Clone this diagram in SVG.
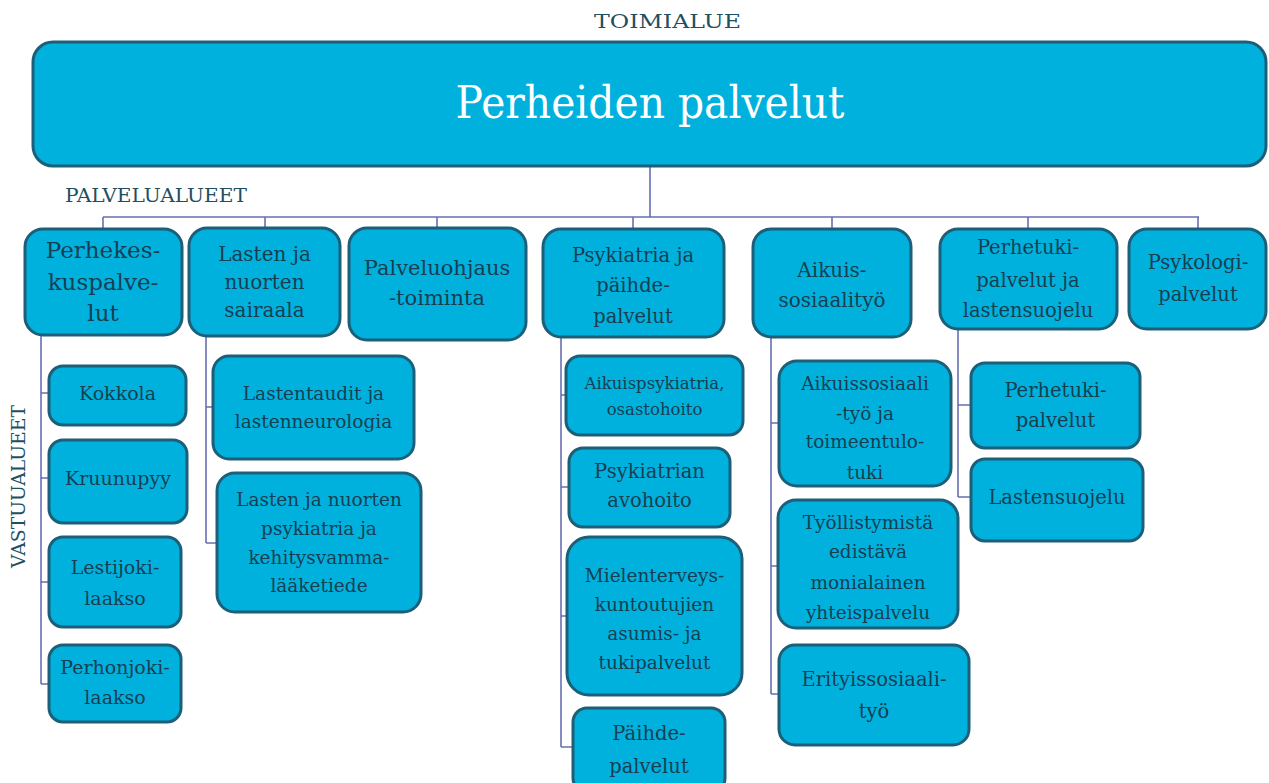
<svg xmlns="http://www.w3.org/2000/svg" width="1269" height="783" viewBox="0 0 1269 783">
<style>
.box{fill:#00B1DE;stroke:#1C5F78;stroke-width:3}
.t{font-family:"DejaVu Serif","Liberation Serif",serif;fill:#163F52;text-anchor:middle}
.lbl{font-family:"DejaVu Serif","Liberation Serif",serif;fill:#1E4F62;font-size:19px}
.conn{stroke:#6670B2;stroke-width:1.6;fill:none}
</style>
<rect width="1269" height="783" fill="#ffffff"/>
<text class="lbl" x="594" y="28" textLength="147" lengthAdjust="spacingAndGlyphs">TOIMIALUE</text>
<text class="lbl" x="65" y="202" textLength="182" lengthAdjust="spacingAndGlyphs">PALVELUALUEET</text>
<text class="lbl" transform="translate(25,568) rotate(-90)" x="0" y="0" textLength="163" lengthAdjust="spacingAndGlyphs">VASTUUALUEET</text>

<g id="connectors" class="conn">
<path d="M650 166V217M103 217H1199M103 217V229M265 217V229M437 217V229M633 217V229M832 217V229M1028 217V229M1198 217V229"/>
<path d="M41 335V684M41 393H49M41 478H49M41 582H49M41 684H49"/>
<path d="M206 336V543M206 407H213M206 543H217"/>
<path d="M561 337V747M561 395H566M561 487H569M561 616H567M561 747H573"/>
<path d="M771 337V694M771 423H779M771 566H778M771 694H779"/>
<path d="M958 329V497M958 405H971M958 497H971"/>
</g>

<g id="root">
<rect class="box" x="33" y="42" width="1233" height="124" rx="20"/>
<text class="t" x="650" y="118" font-size="45" textLength="389" lengthAdjust="spacingAndGlyphs" style="fill:#ffffff">Perheiden palvelut</text>
</g>

<g id="perhekeskus">
<rect class="box" x="25" y="229" width="157" height="106" rx="18"/>
<text class="t" x="103" font-size="23"><tspan x="103" y="258">Perhekes-</tspan><tspan x="103" y="290">kuspalve-</tspan><tspan x="103" y="321">lut</tspan></text>
</g>
<g id="lastensairaala">
<rect class="box" x="189" y="228" width="151" height="108" rx="18"/>
<text class="t" font-size="20"><tspan x="264.5" y="261">Lasten ja</tspan><tspan x="264.5" y="289">nuorten</tspan><tspan x="264.5" y="317">sairaala</tspan></text>
</g>
<g id="palveluohjaus">
<rect class="box" x="349" y="228" width="177" height="112" rx="18"/>
<text class="t" font-size="21"><tspan x="437" y="275">Palveluohjaus</tspan><tspan x="437" y="305">-toiminta</tspan></text>
</g>
<g id="psykiatria">
<rect class="box" x="543" y="229" width="181" height="108" rx="18"/>
<text class="t" font-size="19.5"><tspan x="633" y="262">Psykiatria ja</tspan><tspan x="633" y="292">päihde-</tspan><tspan x="633" y="323">palvelut</tspan></text>
</g>
<g id="aikuissosiaalityo">
<rect class="box" x="753" y="229" width="158" height="108" rx="18"/>
<text class="t" font-size="20"><tspan x="832" y="277">Aikuis-</tspan><tspan x="832" y="307">sosiaalityö</tspan></text>
</g>
<g id="perhetuki">
<rect class="box" x="940" y="229" width="177" height="100" rx="18"/>
<text class="t" font-size="19.5"><tspan x="1028" y="254">Perhetuki-</tspan><tspan x="1028" y="287">palvelut ja</tspan><tspan x="1028" y="317">lastensuojelu</tspan></text>
</g>
<g id="psykologi">
<rect class="box" x="1129" y="229" width="137" height="100" rx="18"/>
<text class="t" font-size="19.5"><tspan x="1198" y="269">Psykologi-</tspan><tspan x="1198" y="301">palvelut</tspan></text>
</g>

<g id="kokkola">
<rect class="box" x="49" y="366" width="137" height="59" rx="14"/>
<text class="t" font-size="19" x="117.5" y="400">Kokkola</text>
</g>
<g id="kruunupyy">
<rect class="box" x="49" y="440" width="138" height="83" rx="14"/>
<text class="t" font-size="19" x="118" y="485">Kruunupyy</text>
</g>
<g id="lestijoki">
<rect class="box" x="49" y="537" width="132" height="90" rx="14"/>
<text class="t" font-size="19"><tspan x="115" y="574">Lestijoki-</tspan><tspan x="115" y="605">laakso</tspan></text>
</g>
<g id="perhonjoki">
<rect class="box" x="49" y="645" width="132" height="77" rx="14"/>
<text class="t" font-size="19"><tspan x="115" y="674">Perhonjoki-</tspan><tspan x="115" y="704">laakso</tspan></text>
</g>

<g id="lastentaudit">
<rect class="box" x="213" y="356" width="201" height="103" rx="16"/>
<text class="t" font-size="18.5"><tspan x="313.5" y="400">Lastentaudit ja</tspan><tspan x="313.5" y="428">lastenneurologia</tspan></text>
</g>
<g id="lastenpsykiatria">
<rect class="box" x="217" y="473" width="204" height="139" rx="18"/>
<text class="t" font-size="18.5"><tspan x="319" y="506">Lasten ja nuorten</tspan><tspan x="319" y="535">psykiatria ja</tspan><tspan x="319" y="564">kehitysvamma-</tspan><tspan x="319" y="592">lääketiede</tspan></text>
</g>

<g id="aikuispsykiatria">
<rect class="box" x="566" y="356" width="177" height="79" rx="14"/>
<text class="t" font-size="16.5"><tspan x="654.5" y="389">Aikuispsykiatria,</tspan><tspan x="654.5" y="415">osastohoito</tspan></text>
</g>
<g id="avohoito">
<rect class="box" x="569" y="448" width="161" height="79" rx="14"/>
<text class="t" font-size="19.5"><tspan x="649.5" y="478">Psykiatrian</tspan><tspan x="649.5" y="507">avohoito</tspan></text>
</g>
<g id="mielenterveys">
<rect class="box" x="567" y="537" width="175" height="158" rx="22"/>
<text class="t" font-size="18.5"><tspan x="654.5" y="582">Mielenterveys-</tspan><tspan x="654.5" y="611">kuntoutujien</tspan><tspan x="654.5" y="640">asumis- ja</tspan><tspan x="654.5" y="669">tukipalvelut</tspan></text>
</g>
<g id="paihde">
<rect class="box" x="573" y="708" width="152" height="84" rx="14"/>
<text class="t" font-size="19.5"><tspan x="649" y="740">Päihde-</tspan><tspan x="649" y="773">palvelut</tspan></text>
</g>

<g id="aikuissosiaali">
<rect class="box" x="779" y="361" width="172" height="125" rx="18"/>
<text class="t" font-size="18.5"><tspan x="865" y="390">Aikuissosiaali</tspan><tspan x="865" y="420">-työ ja</tspan><tspan x="865" y="448">toimeentulo-</tspan><tspan x="865" y="479">tuki</tspan></text>
</g>
<g id="tyollistymista">
<rect class="box" x="778" y="500" width="180" height="128" rx="18"/>
<text class="t" font-size="18.5"><tspan x="868" y="529">Työllistymistä</tspan><tspan x="868" y="558">edistävä</tspan><tspan x="868" y="589">monialainen</tspan><tspan x="868" y="619">yhteispalvelu</tspan></text>
</g>
<g id="erityissosiaali">
<rect class="box" x="779" y="645" width="190" height="100" rx="16"/>
<text class="t" font-size="19.5"><tspan x="874" y="686">Erityissosiaali-</tspan><tspan x="874" y="718">työ</tspan></text>
</g>

<g id="perhetukipalvelut">
<rect class="box" x="971" y="363" width="169" height="85" rx="14"/>
<text class="t" font-size="19.5"><tspan x="1055.5" y="397">Perhetuki-</tspan><tspan x="1055.5" y="427">palvelut</tspan></text>
</g>
<g id="lastensuojelu">
<rect class="box" x="971" y="459" width="172" height="82" rx="14"/>
<text class="t" font-size="19.5" x="1057" y="504">Lastensuojelu</text>
</g>
</svg>
